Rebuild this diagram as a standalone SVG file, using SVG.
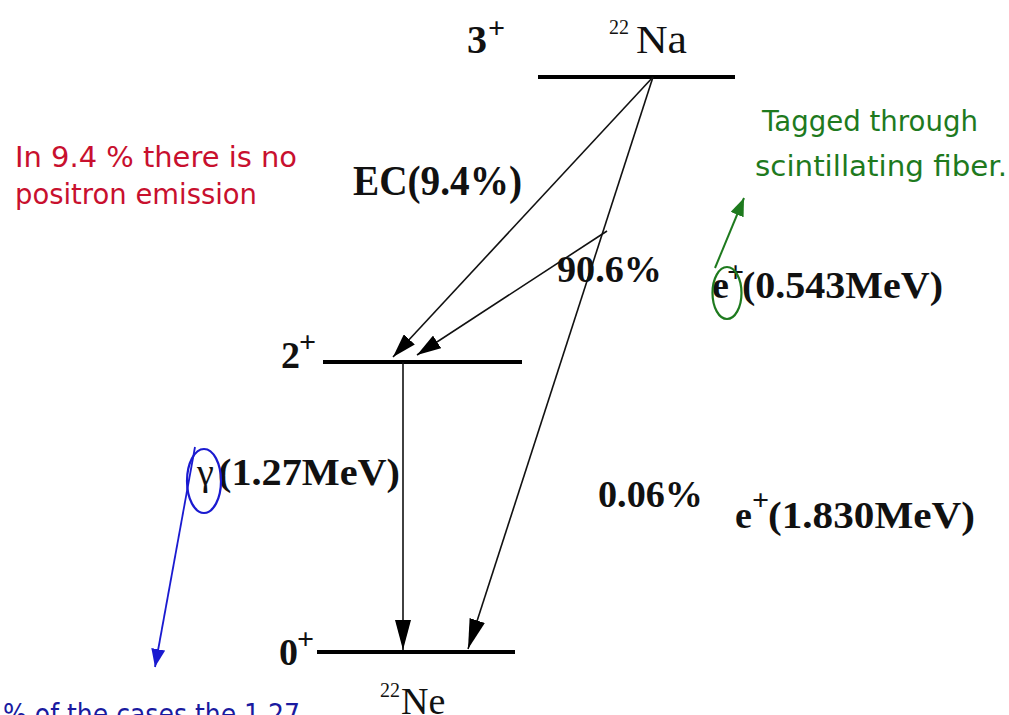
<svg xmlns="http://www.w3.org/2000/svg" width="1009" height="715" viewBox="0 0 1009 715">
  <style>
    .serif { font-family: "Liberation Serif", "Times New Roman", serif; fill: #111; }
    .b { font-weight: bold; }
    .sup { font-size: 30px; }
    .iso { font-size: 20px; }
    .note { font-family: "DejaVu Sans", "Noto Sans", sans-serif; font-size: 28px; }
    .lvl { stroke: #000; stroke-width: 4; fill: none; }
    .tr { stroke: #111; stroke-width: 1.6; fill: none; }
  </style>
  <defs>
    <marker id="ah" markerUnits="userSpaceOnUse" viewBox="0 0 30 16" refX="30" refY="8" markerWidth="30" markerHeight="16" orient="auto">
      <path d="M0,0 L30,8 L0,16 Z" fill="#000"/>
    </marker>
    <marker id="ahs" markerUnits="userSpaceOnUse" viewBox="0 0 24 15" refX="24" refY="7.5" markerWidth="24" markerHeight="15" orient="auto">
      <path d="M0,0 L24,7.5 L0,15 Z" fill="#000"/>
    </marker>
    <marker id="ahg" markerUnits="userSpaceOnUse" viewBox="0 0 18 14" refX="18" refY="7" markerWidth="18" markerHeight="14" orient="auto">
      <path d="M0,0 L18,7 L0,14 Z" fill="#1e7a1e"/>
    </marker>
    <marker id="ahb" markerUnits="userSpaceOnUse" viewBox="0 0 18 14" refX="18" refY="7" markerWidth="18" markerHeight="14" orient="auto">
      <path d="M0,0 L18,7 L0,14 Z" fill="#1a1ad0"/>
    </marker>
  </defs>

  <rect width="1009" height="715" fill="#fff"/>

  <!-- Levels -->
  <g id="level-na22">
    <line class="lvl" x1="538" y1="77" x2="735" y2="77"/>
    <text class="serif b" x="467" y="53" font-size="40">3</text>
    <text class="serif b sup" x="488" y="38">+</text>
    <text class="serif iso" x="609" y="34">22</text>
    <text class="serif" x="636" y="53" font-size="40" textLength="51" lengthAdjust="spacingAndGlyphs">Na</text>
  </g>
  <g id="level-2plus">
    <line class="lvl" x1="323" y1="362" x2="522" y2="362"/>
    <text class="serif b" x="281" y="368" font-size="38">2</text>
    <text class="serif b sup" x="299" y="352">+</text>
  </g>
  <g id="level-0plus">
    <line class="lvl" x1="317" y1="652" x2="515" y2="652"/>
    <text class="serif b" x="279" y="665" font-size="38">0</text>
    <text class="serif b sup" x="297" y="649">+</text>
    <text class="serif iso" x="380" y="697">22</text>
    <text class="serif" x="401" y="714" font-size="38">Ne</text>
  </g>

  <!-- Connectors -->
  <g id="connectors">
    <line class="tr" x1="653" y1="77" x2="393" y2="357" marker-end="url(#ahs)"/>
    <line class="tr" x1="607" y1="231" x2="417" y2="355" marker-end="url(#ahs)"/>
    <line class="tr" x1="653" y1="77" x2="468" y2="649" marker-end="url(#ah)"/>
    <line class="tr" x1="403" y1="362" x2="403" y2="650" marker-end="url(#ah)"/>
    <line x1="715" y1="268" x2="744" y2="198" stroke="#1e7a1e" stroke-width="2" marker-end="url(#ahg)"/>
    <line x1="195" y1="447" x2="155" y2="667" stroke="#1a1ad0" stroke-width="1.8" marker-end="url(#ahb)"/>
  </g>

  <!-- Transition labels -->
  <g id="label-ec">
    <text class="serif b" x="353" y="195" font-size="42" textLength="169" lengthAdjust="spacingAndGlyphs">EC(9.4%)</text>
  </g>
  <g id="label-906">
    <text class="serif b" x="557" y="282" font-size="38" textLength="105" lengthAdjust="spacingAndGlyphs">90.6%</text>
  </g>
  <g id="label-e543">
    <text class="serif b" x="712" y="298" font-size="38">e</text>
    <text class="serif b sup" x="727" y="282">+</text>
    <text class="serif b" x="742" y="298" font-size="38" textLength="201" lengthAdjust="spacingAndGlyphs">(0.543MeV)</text>
    <ellipse cx="727" cy="293" rx="14.5" ry="26" fill="none" stroke="#1e7a1e" stroke-width="2.2"/>
  </g>
  <g id="label-006">
    <text class="serif b" x="598" y="507" font-size="38" textLength="105" lengthAdjust="spacingAndGlyphs">0.06%</text>
  </g>
  <g id="label-e1830">
    <text class="serif b" x="735" y="528" font-size="38">e</text>
    <text class="serif b sup" x="752" y="510">+</text>
    <text class="serif b" x="768" y="528" font-size="38" textLength="207" lengthAdjust="spacingAndGlyphs">(1.830MeV)</text>
  </g>
  <g id="label-gamma">
    <text class="serif" x="197" y="485" font-size="38">γ</text>
    <text class="serif b" x="218" y="485" font-size="38" textLength="182" lengthAdjust="spacingAndGlyphs">(1.27MeV)</text>
    <ellipse cx="204" cy="481" rx="17" ry="32" fill="none" stroke="#1a1ad0" stroke-width="2.2"/>
  </g>

  <!-- Notes -->
  <g id="note-red" class="note" fill="#c8102e">
    <text x="15" y="167" textLength="282" lengthAdjust="spacingAndGlyphs">In 9.4 % there is no</text>
    <text x="15" y="204" textLength="242" lengthAdjust="spacingAndGlyphs">positron emission</text>
  </g>
  <g id="note-green" class="note" fill="#1e7a1e">
    <text x="762" y="131" textLength="216" lengthAdjust="spacingAndGlyphs">Tagged through</text>
    <text x="755" y="176" textLength="252" lengthAdjust="spacingAndGlyphs">scintillating fiber.</text>
  </g>
  <g id="note-blue" class="note" fill="#1a1aa0">
    <text x="3" y="724" textLength="297" lengthAdjust="spacingAndGlyphs">% of the cases the 1.27</text>
  </g>
</svg>
